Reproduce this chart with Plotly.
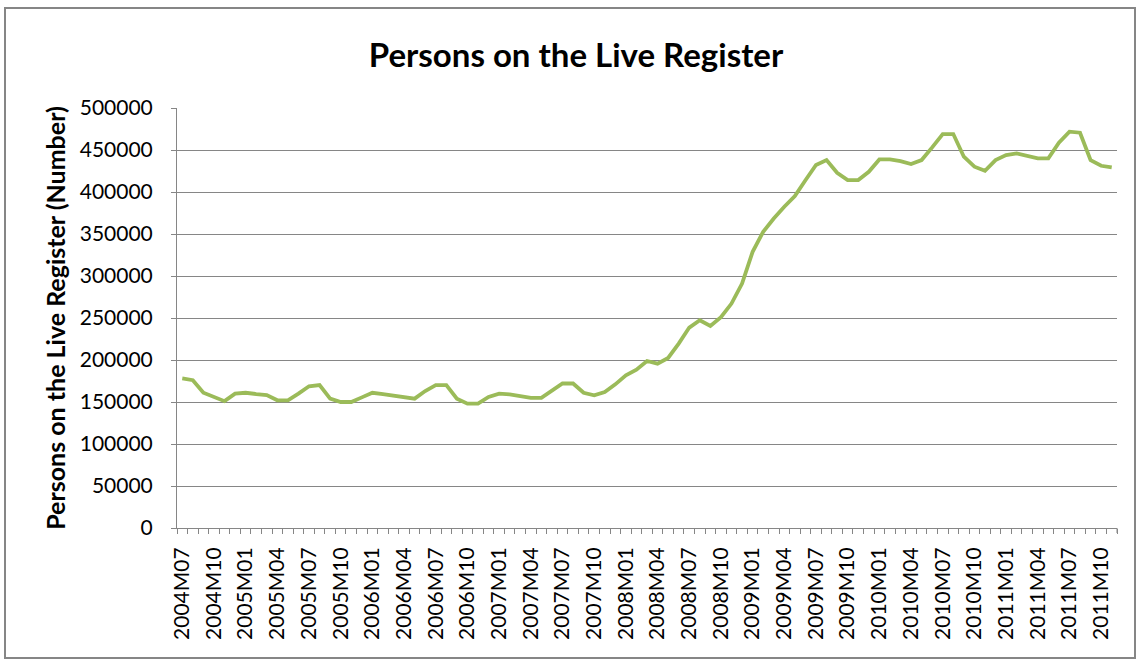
import plotly.graph_objects as go

# ---- data ----
years = list(range(2004, 2012))
months = []
for y in years:
    for m in range(1, 13):
        if (y == 2004 and m < 7) or (y == 2011 and m > 11):
            continue
        months.append(f"{y}M{m:02d}")

values = [
    178000, 176000, 161000, 156000, 151000, 160000,             # 2004M07-M12
    161000, 159500, 158300, 152000, 152000, 160000,             # 2005M01-M06
    168700, 170200, 154000, 150000, 150000, 155500,             # 2005M07-M12
    161000, 159500, 158000, 156000, 154000, 163000,             # 2006M01-M06
    170000, 170000, 154000, 148000, 148000, 156000,             # 2006M07-M12
    160000, 159000, 156700, 155000, 155000, 163300,             # 2007M01-M06
    172000, 172000, 161000, 158000, 161900, 171000,             # 2007M07-M12
    181800, 188500, 198800, 195700, 202400, 219500,             # 2008M01-M06
    238600, 247300, 240600, 251000, 267200, 291000,             # 2008M07-M12
    328800, 352600, 368500, 382400, 395100, 414000,             # 2009M01-M06
    432100, 438000, 422900, 414200, 414200, 424100,             # 2009M07-M12
    438800, 438800, 436800, 433300, 438000, 453100,             # 2010M01-M06
    469000, 469000, 442000, 430100, 425300, 438000,             # 2010M07-M12
    444000, 446000, 442800, 440000, 440000, 458600,             # 2011M01-M06
    471800, 470600, 438000, 431200, 429300,                     # 2011M07-M11
]

tick_labels = [m if i % 3 == 0 else "" for i, m in enumerate(months)]
y_ticks = list(range(0, 500001, 50000))

title_text = "Persons on the Live Register"
y_title = "Persons on the Live Register (Number)"

# ---- figure ----
W, H = 1137, 660
L, R, T, B = 177, 20, 108, 132

fig = go.Figure()
fig.add_trace(go.Scatter(
    x=months, y=values, mode="lines",
    line=dict(color="#9BBB59", width=3.8),
    hoverinfo="x+y", showlegend=False,
))

FONT = "Lato, 'Open Sans', sans-serif"
GRAY = "#868686"

fig.update_layout(
    width=W, height=H,
    margin=dict(l=L, r=R, t=T, b=B, pad=0, autoexpand=False),
    paper_bgcolor="white", plot_bgcolor="white",
    font=dict(family=FONT, color="black", size=18),
    title=dict(text=f"<b>{title_text}</b>", x=576 / W, xanchor="center",
               y=1 - 55 / H, yanchor="middle", xref="container", yref="container",
               font=dict(size=33, family=FONT, color="black")),
    xaxis=dict(
        type="category", tickmode="array", tickvals=months, ticktext=tick_labels,
        tickson="boundaries", ticks="outside", ticklen=5, tickcolor=GRAY, tickwidth=1,
        ticklabelstandoff=10,
        tickangle=-90, tickfont=dict(size=21, family=FONT, color="black"),
        showline=True, linecolor=GRAY, linewidth=1, showgrid=False, zeroline=False,
        range=[-0.5, len(months) - 0.5], automargin=False,
    ),
    yaxis=dict(
        range=[0, 500000], tickmode="array", tickvals=y_ticks,
        ticktext=[str(v) for v in y_ticks],
        ticks="outside", ticklen=5, tickcolor=GRAY, tickwidth=1,
        ticklabelstandoff=14,
        tickfont=dict(size=21, family=FONT, color="black"),
        showline=True, linecolor=GRAY, linewidth=1,
        showgrid=True, gridcolor=GRAY, gridwidth=1, zeroline=False,
        automargin=False,
        title=dict(text=f"<b>{y_title}</b>", standoff=6,
                   font=dict(size=25, family=FONT, color="black")),
    ),
)

# outer chart border and right-end tick
pw, ph = W - L - R, H - T - B
def px_x(px):
    return (px - L) / pw
def px_y(py):
    return (H - B - py) / ph

fig.add_shape(type="rect", xref="paper", yref="paper",
              x0=px_x(5), x1=px_x(1135), y0=px_y(658), y1=px_y(8),
              line=dict(color=GRAY, width=2), fillcolor="rgba(0,0,0,0)", layer="below")
fig.add_shape(type="line", xref="paper", yref="paper",
              x0=1, x1=1, y0=0, y1=px_y(H - B + 5),
              line=dict(color=GRAY, width=1))

fig.write_html("out.html",
               config={"displayModeBar": False},
               post_script="document.body.style.margin='0';document.body.style.overflow='hidden';")
